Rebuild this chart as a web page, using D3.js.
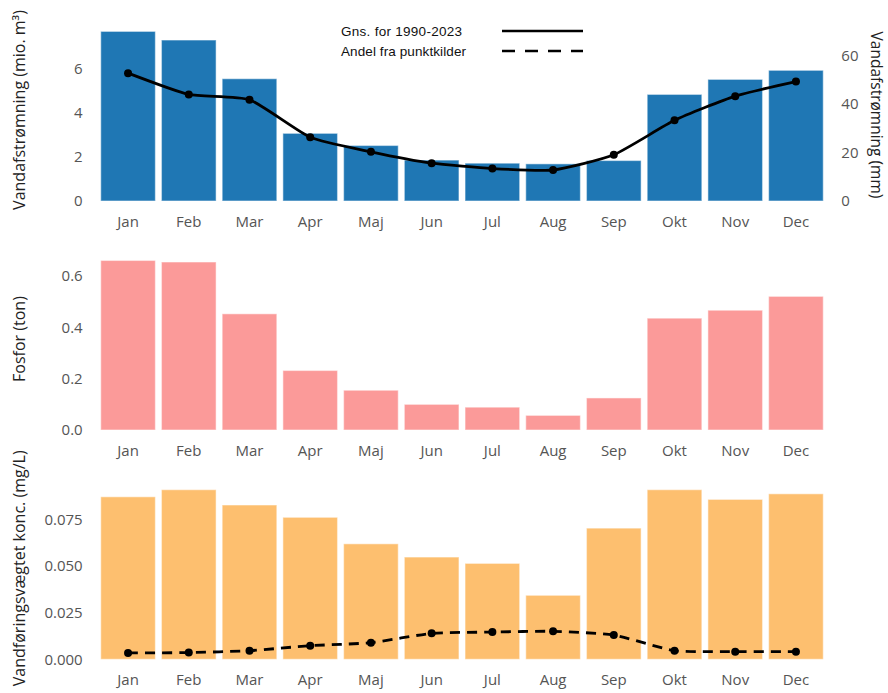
<!DOCTYPE html>
<html>
<head>
<meta charset="utf-8">
<script src="https://cdn.jsdelivr.net/npm/d3@7"></script>
<style>
	body { margin: 0; background: #fff; }
	.tick text { font-family: "Open Sans", sans-serif; font-size: 15px; fill: #555; }
	.ytitle { font-family: "Open Sans", sans-serif; font-size: 16px; fill: #222; }
	.legend text { font-family: "Liberation Sans", Arial, sans-serif; font-size: 13.5px; fill: #111; }
</style>
</head>
<body>
<div id="chart"></div>
<script>
// Data
var months = ["Jan", "Feb", "Mar", "Apr", "Maj", "Jun", "Jul", "Aug", "Sep", "Okt", "Nov", "Dec"];
var flowVolume = [7.67, 7.28, 5.53, 3.06, 2.51, 1.85, 1.71, 1.68, 1.83, 4.82, 5.50, 5.91];
var flowMmAvg = [52.8, 44.0, 41.8, 26.3, 20.3, 15.6, 13.4, 12.8, 19.1, 33.3, 43.3, 49.3];
var phosphorus = [0.661, 0.655, 0.453, 0.232, 0.155, 0.100, 0.089, 0.057, 0.125, 0.436, 0.467, 0.521];
var concentration = [0.0871, 0.0909, 0.0827, 0.0761, 0.0619, 0.0548, 0.0514, 0.0343, 0.0703, 0.0909, 0.0857, 0.0887];
var pointShare = [0.0034, 0.0036, 0.0046, 0.0073, 0.0089, 0.0139, 0.0146, 0.0150, 0.0130, 0.0046, 0.0041, 0.0041];

var flowTicks = [0, 2, 4, 6];
var mmTicks = [0, 20, 40, 60];
var phosTicks = [0, 0.2, 0.4, 0.6];
var concTicks = [0, 0.025, 0.05, 0.075];

var width = 888, height = 693;
var plotLeft = 97.7, plotRight = 826.3, plotHeight = 178;

var svg = d3.select("#chart").append("svg")
	.attr("width", width)
	.attr("height", height);

// shared month scale
var x = d3.scaleBand().domain(months).range([plotLeft, plotRight])
	.paddingInner(0.1).paddingOuter(0.05);

function drawPanel(bottom, values, ymax, color, ticks, fmt, title){
	var y = d3.scaleLinear().domain([0, ymax]).range([bottom, bottom - plotHeight]);
	var g = svg.append("g");

	g.selectAll("rect")
		.data(values)
		.enter().append("rect")
		.attr("x", (d, i) => x(months[i]))
		.attr("width", x.bandwidth())
		.attr("y", d => y(d))
		.attr("height", d => y(0) - y(d))
		.attr("fill", color)
		.attr("stroke", "#fff")
		.attr("stroke-opacity", 0.45)
		.attr("stroke-width", 1.2);

	// left axis, no lines
	var yAxis = g.append("g")
		.attr("transform", "translate(" + plotLeft + ",0)")
		.call(d3.axisLeft(y).tickValues(ticks).tickFormat(fmt).tickSize(0).tickPadding(15));
	yAxis.select(".domain").remove();

	var xAxis = g.append("g")
		.attr("transform", "translate(0," + (bottom + 15) + ")")
		.call(d3.axisBottom(x).tickSize(0).tickPadding(0));
	xAxis.select(".domain").remove();
	xAxis.selectAll("text").attr("dy", "0.71em");

	g.append("text")
		.attr("class", "ytitle")
		.attr("text-anchor", "middle")
		.attr("transform", "translate(25," + (bottom - plotHeight / 2 - 2) + ") rotate(-90)")
		.text(title);

	return y;
}

function drawLine(y, values, dashed){
	var line = d3.line()
		.x((d, i) => x(months[i]) + x.bandwidth() / 2)
		.y(d => y(d))
		.curve(d3.curveCardinal.tension(0.45));

	svg.append("path")
		.datum(values)
		.attr("d", line)
		.attr("fill", "none")
		.attr("stroke", "#000")
		.attr("stroke-width", 2.8)
		.attr("stroke-dasharray", dashed ? "10,7" : null);

	svg.append("g").selectAll("circle")
		.data(values)
		.enter().append("circle")
		.attr("cx", (d, i) => x(months[i]) + x.bandwidth() / 2)
		.attr("cy", d => y(d))
		.attr("r", 4)
		.attr("fill", "#000");
}

// Panel 1: flow volume with mm on right axis
var y1 = drawPanel(201, flowVolume, 8.05, "#1f77b4", flowTicks, d3.format("d"), "Vandafstrømning (mio. m³)");
var yMm = d3.scaleLinear().domain([0, 73.5]).range([201, 201 - plotHeight]);
var rightAxis = svg.append("g")
	.attr("transform", "translate(" + plotRight + ",0)")
	.call(d3.axisRight(yMm).tickValues(mmTicks).tickFormat(d3.format("d")).tickSize(0).tickPadding(15));
rightAxis.select(".domain").remove();
svg.append("text")
	.attr("class", "ytitle")
	.attr("text-anchor", "middle")
	.style("font-size", "15.5px")
	.attr("transform", "translate(871,115) rotate(90)")
	.text("Vandafstrømning (mm)");
drawLine(yMm, flowMmAvg, false);

// Panel 2: phosphorus
drawPanel(430, phosphorus, 0.694, "#fb9a99", phosTicks, d3.format(".1f"), "Fosfor (ton)");

// Panel 3: concentration with point source share
var y3 = drawPanel(659.3, concentration, 0.0954, "#fdbf6f", concTicks, d3.format(".3f"), "Vandføringsvægtet konc. (mg/L)");
drawLine(y3, pointShare, true);

// Legend
var legend = svg.append("g").attr("class", "legend");
var legendItems = [["Gns. for 1990-2023", null, 121], ["Andel fra punktkilder", "13,10", 125]];
legendItems.forEach((item, i) => {
	var ly = 31 + i * 20;
	legend.append("text")
		.attr("x", 341).attr("y", ly + 4.5)
		.attr("textLength", item[2])
		.attr("lengthAdjust", "spacing")
		.text(item[0]);
	legend.append("line")
		.attr("x1", 502).attr("x2", 583)
		.attr("y1", ly).attr("y2", ly)
		.attr("stroke", "#000")
		.attr("stroke-width", 2.6)
		.attr("stroke-dasharray", item[1]);
});
</script>
</body>
</html>
